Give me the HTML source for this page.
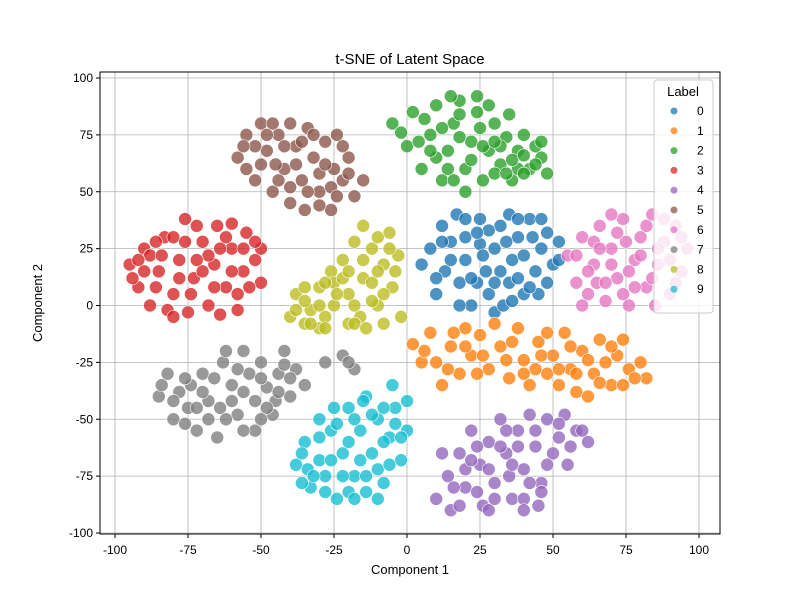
<!DOCTYPE html>
<html><head><meta charset="utf-8"><style>
body{margin:0;background:#fff;}
svg{font-family:"Liberation Sans",sans-serif;}
</style></head><body>
<svg id="chart" width="800" height="600" viewBox="0 0 800 600">
<rect width="800" height="600" fill="#fff"/>
<g id="grid"></g>
<g id="points"></g>
<rect x="100" y="72" width="620" height="462" fill="none" stroke="#000" stroke-width="1"/>
<g id="ticks"></g>
<text x="410" y="64" text-anchor="middle" font-size="15">t-SNE of Latent Space</text>
<text x="410" y="574" text-anchor="middle" font-size="13">Component 1</text>
<text transform="translate(42,303) rotate(-90)" text-anchor="middle" font-size="13">Component 2</text>
<g id="legend"></g>
</svg>
<script>
const xTicks=[-100,-75,-50,-25,0,25,50,75,100];
const yTicks=[-100,-75,-50,-25,0,25,50,75,100];
const labels=["0","1","2","3","4","5","6","7","8","9"];
const colors=["#1f77b4","#ff7f0e","#2ca02c","#d62728","#9467bd","#8c564b","#e377c2","#7f7f7f","#bcbd22","#17becf"];
const c0=[[8,25],[12,35],[15,20],[18,10],[20,30],[22,0],[25,38],[27,15],[28,5],[30,25],[32,35],[35,10],[36,20],[38,30],[40,5],[42,38],[44,15],[46,25],[48,32],[50,18],[13,15],[20,20],[25,27],[30,-3],[33,0],[40,22],[45,5],[5,18],[10,5],[17,40],[35,40],[52,20],[24,10],[38,12],[28,33],[15,28],[22,12],[32,15],[43,30],[48,10],[18,0],[36,2],[26,22],[34,28],[42,8],[10,12],[30,10],[24,32],[46,38],[52,28],[12,28],[38,38],[20,38]];
const c1=[[2,-17],[8,-12],[10,-25],[15,-18],[18,-30],[22,-22],[25,-13],[28,-28],[32,-18],[35,-32],[38,-10],[40,-24],[45,-16],[48,-30],[50,-22],[54,-12],[56,-28],[58,-38],[60,-20],[64,-30],[66,-15],[68,-25],[70,-35],[72,-22],[76,-28],[80,-25],[82,-32],[5,-25],[12,-35],[30,-8],[42,-35],[62,-40],[74,-15],[20,-10],[52,-35],[6,-20],[14,-28],[20,-18],[26,-22],[34,-24],[36,-16],[44,-28],[46,-22],[52,-28],[58,-30],[62,-24],[66,-34],[70,-18],[78,-32],[74,-35],[16,-12],[24,-30],[56,-18],[48,-12],[40,-30]];
const c2=[[-5,80],[0,70],[2,85],[5,60],[8,75],[10,88],[12,55],[14,68],[16,80],[18,90],[20,60],[22,72],[24,85],[26,55],[28,68],[30,80],[32,62],[34,74],[36,55],[38,68],[40,75],[42,60],[44,70],[46,65],[48,58],[6,82],[15,92],[25,78],[35,84],[10,65],[-2,76],[20,50],[30,58],[38,60],[4,72],[12,78],[18,74],[22,64],[26,70],[28,88],[32,70],[36,64],[40,66],[44,62],[46,72],[14,60],[8,68],[24,92],[30,72],[34,58],[18,84],[40,58],[16,55]];
const c3=[[-95,18],[-92,8],[-90,25],[-88,0],[-85,15],[-83,30],[-80,5],[-78,20],[-76,38],[-75,-3],[-73,12],[-70,28],[-68,0],[-66,18],[-65,35],[-62,8],[-60,25],[-58,-2],[-56,15],[-55,32],[-52,20],[-50,10],[-88,22],[-80,30],[-72,35],[-64,-4],[-58,5],[-70,15],[-82,-2],[-94,12],[-60,36],[-50,25],[-92,20],[-86,8],[-84,22],[-78,12],[-76,28],[-74,5],[-68,22],[-66,8],[-62,30],[-60,15],[-54,8],[-52,28],[-56,25],[-72,20],[-80,-5],[-86,28],[-64,25],[-90,15]];
const c4=[[10,-85],[14,-75],[15,-90],[18,-65],[20,-80],[22,-55],[25,-70],[26,-88],[28,-60],[30,-78],[32,-50],[34,-65],[36,-85],[38,-55],[40,-72],[42,-48],[44,-62],[46,-78],[48,-50],[50,-65],[52,-58],[55,-70],[58,-55],[62,-60],[12,-65],[24,-62],[35,-75],[45,-88],[28,-90],[54,-48],[40,-85],[16,-80],[20,-72],[24,-82],[28,-72],[32,-62],[36,-70],[38,-62],[42,-78],[44,-55],[48,-70],[52,-52],[56,-62],[60,-55],[30,-85],[22,-68],[40,-90],[18,-88],[34,-55],[46,-82]];
const c5=[[-58,65],[-55,75],[-52,55],[-50,80],[-48,68],[-46,50],[-44,75],[-42,60],[-40,45],[-38,70],[-36,55],[-34,78],[-32,65],[-30,50],[-28,72],[-26,42],[-25,60],[-22,55],[-20,65],[-18,48],[-52,70],[-45,62],[-35,42],[-30,58],[-40,80],[-24,75],[-15,55],[-55,60],[-56,70],[-50,62],[-48,75],[-44,55],[-42,70],[-38,62],[-36,72],[-34,50],[-28,62],[-26,52],[-22,70],[-20,58],[-32,75],[-46,80],[-40,52],[-30,44],[-24,48]];
const c6=[[55,22],[58,10],[60,30],[62,5],[64,18],[66,35],[68,2],[70,25],[72,12],[74,38],[76,0],[78,20],[80,30],[82,8],[84,40],[86,18],[88,28],[90,5],[92,35],[94,15],[96,25],[60,0],[70,40],[85,0],[75,28],[65,10],[58,22],[62,15],[64,28],[68,10],[70,18],[74,5],[76,15],[80,22],[82,35],[84,12],[86,25],[88,38],[90,20],[92,10],[94,30],[72,32],[66,25],[78,8]];
const c7=[[-85,-40],[-82,-30],[-80,-50],[-78,-38],[-75,-45],[-72,-55],[-70,-30],[-68,-42],[-65,-58],[-63,-25],[-60,-35],[-58,-48],[-56,-20],[-54,-30],[-52,-42],[-50,-25],[-48,-36],[-46,-48],[-44,-30],[-42,-20],[-40,-40],[-38,-28],[-62,-50],[-74,-35],[-52,-55],[-45,-42],[-28,-25],[-22,-22],[-18,-28],[-35,-35],[-84,-35],[-80,-42],[-76,-52],[-72,-45],[-70,-38],[-66,-32],[-64,-45],[-60,-42],[-58,-28],[-56,-38],[-50,-32],[-48,-45],[-44,-38],[-42,-26],[-40,-32],[-68,-50],[-56,-55],[-76,-32],[-62,-20],[-50,-50],[-20,-25]];
const c8=[[-40,-5],[-38,5],[-35,-8],[-33,-2],[-30,8],[-28,-5],[-26,15],[-25,0],[-22,20],[-20,5],[-18,28],[-16,-5],[-15,12],[-12,25],[-10,0],[-8,18],[-6,32],[-5,8],[-3,22],[-2,-5],[-30,-10],[-20,-8],[-12,10],[-25,10],[-8,-8],[-15,35],[-35,2],[-38,-2],[-35,8],[-30,0],[-28,10],[-24,5],[-22,12],[-20,15],[-18,0],[-15,20],[-12,2],[-10,15],[-8,5],[-6,25],[-4,15],[-28,-10],[-18,-8],[-10,30],[-14,-10],[-33,-8]];
const c9=[[-38,-70],[-35,-60],[-33,-80],[-30,-68],[-28,-75],[-26,-55],[-24,-85],[-22,-65],[-20,-45],[-18,-75],[-16,-55],[-14,-40],[-12,-65],[-10,-50],[-8,-78],[-6,-58],[-4,-45],[-2,-68],[0,-55],[-25,-45],[-20,-82],[-14,-75],[-5,-35],[-30,-50],[-10,-85],[0,-42],[-36,-78],[-36,-65],[-34,-72],[-30,-58],[-28,-82],[-26,-68],[-24,-52],[-22,-75],[-20,-60],[-18,-50],[-16,-68],[-14,-82],[-12,-48],[-10,-72],[-8,-60],[-6,-70],[-4,-52],[-2,-58],[-18,-85],[-32,-75],[-15,-42],[-8,-45]];
const clusters=[c0,c1,c2,c3,c4,c5,c6,c7,c8,c9];
const NS="http://www.w3.org/2000/svg";
function sx(v){return 407+v*2.92;}
function sy(v){return 305.5-v*2.275;}
function mk(t,a,p){const e=document.createElementNS(NS,t);for(const k in a)e.setAttribute(k,a[k]);p.appendChild(e);return e;}
const grid=document.getElementById('grid'),ticks=document.getElementById('ticks');
xTicks.forEach(v=>{
  const l=mk('line',{x1:sx(v),x2:sx(v),y1:72,y2:534,stroke:'#b0b0b0','stroke-width':0.8},grid);
  
  
  const t=mk('line',{x1:sx(v),x2:sx(v),y1:534,y2:538,stroke:'#000'},ticks);
  
  
  const tx=mk('text',{x:sx(v),y:554,'text-anchor':'middle','font-size':12},ticks);
  tx.textContent=v;
  
  
});
yTicks.forEach(v=>{
  const l=mk('line',{x1:100,x2:720,y1:sy(v),y2:sy(v),stroke:'#b0b0b0','stroke-width':0.8},grid);
  
  
  const t=mk('line',{x1:96,x2:100,y1:sy(v),y2:sy(v),stroke:'#000'},ticks);
  
  
  const tx=mk('text',{x:93,y:sy(v)+4,'text-anchor':'end','font-size':12},ticks);
  tx.textContent=v;
  
  
});
const pts=document.getElementById('points');
clusters.forEach((c,i)=>{
  c.forEach(p=>{
    const e=mk('circle',{cx:sx(p[0]),cy:sy(p[1]),r:6.5,fill:colors[i],'fill-opacity':0.8,stroke:'#fff','stroke-width':0.6},pts);
    
    
  });
});
const lg=document.getElementById('legend');
const box=mk('rect',{x:654,y:80,width:59,height:233,rx:3,fill:'#fff','fill-opacity':0.8,stroke:'#ccc'},lg);


const lt=mk('text',{x:683,y:96,'text-anchor':'middle','font-size':13},lg);
lt.textContent='Label';


labels.forEach((s,i)=>{
  const y=111+i*19.8;
  const c=mk('circle',{cx:674,cy:y,r:3.5,fill:colors[i],'fill-opacity':0.75},lg);
  
  
  const t=mk('text',{x:697,y:y+4,'font-size':12},lg);
  t.textContent=s;
  
  
});
</script>
</body></html>
